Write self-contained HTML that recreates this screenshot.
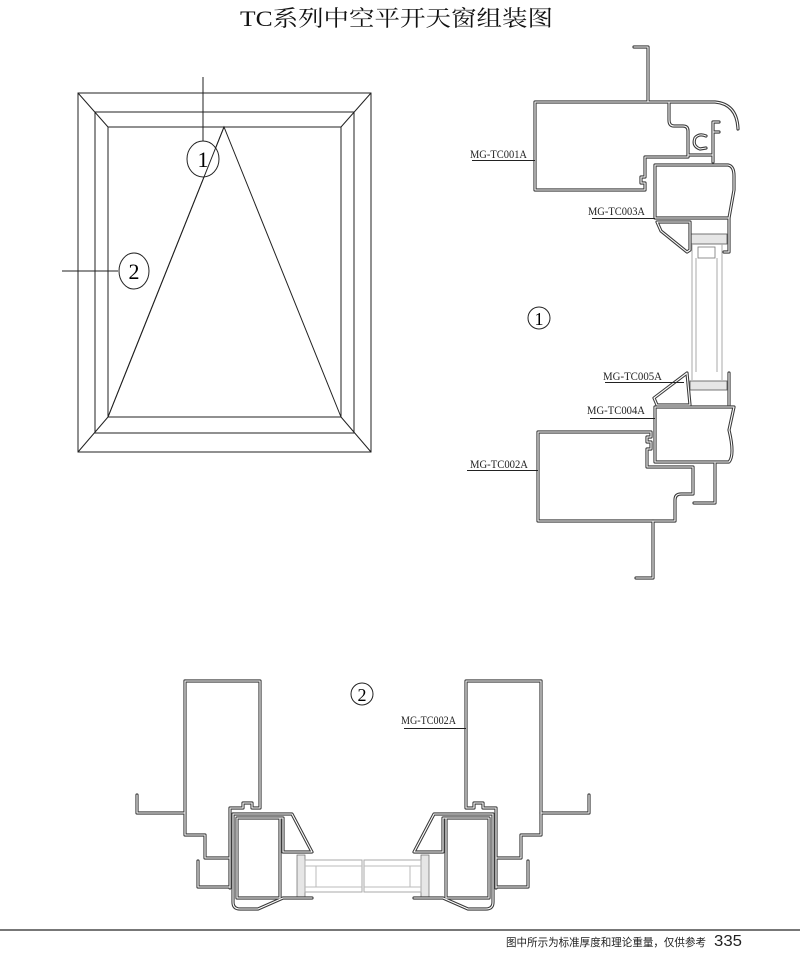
<!DOCTYPE html>
<html><head><meta charset="utf-8"><style>
html,body{margin:0;padding:0;background:#fff;}
svg{display:block}
.p{fill:none;stroke:#3a3a3a;stroke-width:3.2;stroke-linejoin:round;stroke-linecap:round}
.pw{fill:none;stroke:#fff;stroke-width:1.1;stroke-linejoin:round;stroke-linecap:round}
.t{font-family:"Liberation Serif","Noto Serif CJK SC",serif;font-size:12px;fill:#222}
.ln{stroke:#222;stroke-width:1;fill:none}
</style></head><body>
<svg width="800" height="976" viewBox="0 0 800 976" xmlns="http://www.w3.org/2000/svg">
<defs>
<g id="s1">
<path d="M634,47 L648,47 L648,102"/>
<path d="M669,102 L535,102 L535,190 L645,190 L645,183 L641,183 L641,177 L645,177 L645,157 L688,157 L688,131 Q688,126 683,126 L674,126 Q669,126 669,120 Z"/>
<path d="M669,102 L715,102 Q737,104 738,129"/>
<path d="M706,136 Q699,133 695,138 Q692,146 700,149 L706,148"/>
<path d="M713,122 L713,162 M713,122 L719,122 M713,132 L719,132 M688,155 L713,155"/>
<path d="M655,165 L728,165 Q734,166 734,176 L734,190 L729,218 L655,218 Z"/>
<path d="M729,218 L729,252 L724,252"/>
<path d="M657,222 L661,231 L687,252 L690,250 L690,222 Z"/>
<path d="M687,373 L654,398 L657,405 L690,405 Z"/>
<path d="M729,373 L729,405"/>
<path d="M655,407 L734,407 L729,430 Q735,455 729,462 L655,462 Z"/>
<path d="M651,432 L538,432 L538,521 L675,521 L675,500 Q675,494 681,494 L693,494 L693,467 L647,467 L647,449 L651,449 L651,442 L647,442 L647,437 L651,437 Z"/>
<path d="M715,463 L715,503 L694,503"/>
<path d="M653,521 L653,578 L636,578"/>
</g>
<g id="s2">
<path d="M185,681 L260,681 L260,808 L252,808 L252,803 L243,803 L243,808 L230,808 L230,888"/>
<path d="M185,681 L185,835 L205,835 L205,858 L230,858"/>
<path d="M185,813 L137,813 L137,795"/>
<path d="M198,861 L198,887 L230,887"/>
<path d="M233,814 L292,814 L312,852 L283,852 L283,818 L237,818 L237,898 L280,898 L280,818"/>
<path d="M233,814 L233,902 Q233,909 240,909 L258,909 L283,898 L312,898"/>
</g>
</defs>
<text x="240" y="26" textLength="313" lengthAdjust="spacingAndGlyphs" style="font-family:'Liberation Serif','Noto Serif CJK SC',serif;font-size:22px;fill:#111">TC系列中空平开天窗组装图</text>

<g class="ln">
<rect x="78" y="93" width="293" height="359"/>
<rect x="95" y="112" width="259" height="321"/>
<rect x="108" y="127" width="233" height="290"/>
<path d="M78,93 L108,127 M371,93 L341,127 M78,452 L108,417 M371,452 L341,417"/>
<path d="M108,417 L224,127 L341,417"/>
<path d="M203,77 L203,143"/>
<ellipse cx="203" cy="159" rx="16" ry="18" fill="#fff"/>
<path d="M62,271 L118,271"/>
<ellipse cx="134" cy="271" rx="15" ry="18" fill="#fff"/>
</g>
<path d="M108,417 L224,127" class="ln"/>
<text x="203" y="167" text-anchor="middle" style="font-family:'Liberation Serif',serif;font-size:22px">1</text>
<text x="134" y="279" text-anchor="middle" style="font-family:'Liberation Serif',serif;font-size:22px">2</text>

<rect x="690" y="234" width="37" height="10" fill="#e6e6e6" stroke="#555" stroke-width="0.8"/>
<rect x="698" y="247" width="17" height="11" fill="none" stroke="#777" stroke-width="0.8"/>
<path d="M692,244 L692,380 M696,258 L696,372 M717,258 L717,372 M722,244 L722,380" stroke="#aaa" stroke-width="1" fill="none"/>
<rect x="690" y="381" width="37" height="9" fill="#e6e6e6" stroke="#555" stroke-width="0.8"/>
<use href="#s1" class="p"/>
<use href="#s1" class="pw"/>
<circle cx="539" cy="318" r="11" class="ln"/>
<text x="539" y="325" text-anchor="middle" style="font-family:'Liberation Serif',serif;font-size:18px">1</text>

<text class="t" x="470" y="158" textLength="57" lengthAdjust="spacingAndGlyphs">MG-TC001A</text>
<path class="ln" d="M472,160.5 L535,160.5"/>
<text class="t" x="588" y="215" textLength="57" lengthAdjust="spacingAndGlyphs">MG-TC003A</text>
<path class="ln" d="M592,218.5 L655,218.5"/>
<text class="t" x="603" y="380" textLength="59" lengthAdjust="spacingAndGlyphs">MG-TC005A</text>
<path class="ln" d="M605,382.5 L684,382.5"/>
<text class="t" x="587" y="414" textLength="58" lengthAdjust="spacingAndGlyphs">MG-TC004A</text>
<path class="ln" d="M590,418.5 L655,418.5"/>
<text class="t" x="470" y="468" textLength="58" lengthAdjust="spacingAndGlyphs">MG-TC002A</text>
<path class="ln" d="M467,470.5 L538,470.5"/>

<g id="half">
<rect x="297" y="855" width="8" height="42" fill="#e6e6e6" stroke="#666" stroke-width="0.7"/>
<rect x="305" y="860" width="57" height="32" fill="none" stroke="#aaa" stroke-width="1"/>
<path d="M305,866 L362,866 M305,887 L362,887 M316,866 L316,887" stroke="#bbb" stroke-width="1" fill="none"/>
<use href="#s2" class="p"/>
<use href="#s2" class="pw"/>
</g>
<use href="#half" transform="translate(726,0) scale(-1,1)"/>
<circle cx="362" cy="694" r="11" class="ln"/>
<text x="362" y="701" text-anchor="middle" style="font-family:'Liberation Serif',serif;font-size:18px">2</text>
<text class="t" x="401" y="724" textLength="55" lengthAdjust="spacingAndGlyphs">MG-TC002A</text>
<path class="ln" d="M404,728.5 L466,728.5"/>

<rect x="0" y="929" width="800" height="2" fill="#777"/>
<text x="506" y="946" textLength="200" lengthAdjust="spacingAndGlyphs" style="font-family:'Liberation Sans','Noto Sans CJK SC',sans-serif;font-size:11px;fill:#222">图中所示为标准厚度和理论重量，仅供参考</text>
<text x="714" y="946" style="font-family:'Liberation Sans',sans-serif;font-size:16px;fill:#222" textLength="28" lengthAdjust="spacingAndGlyphs">335</text>
</svg>
</body></html>
